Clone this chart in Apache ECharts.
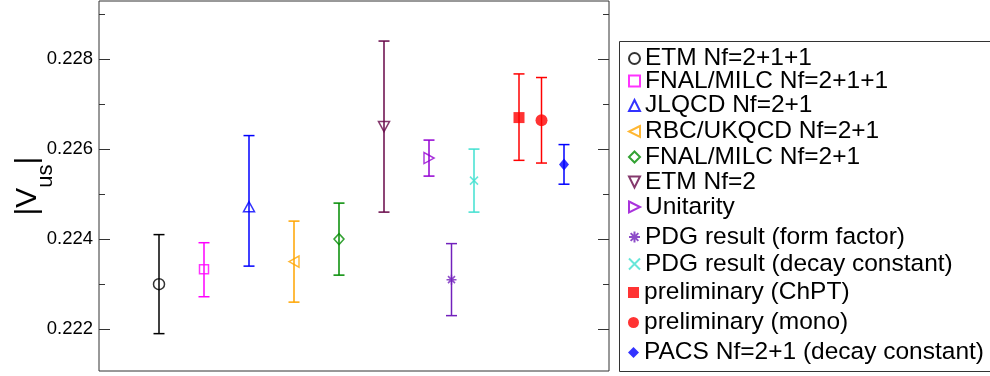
<!DOCTYPE html>
<html>
<head>
<meta charset="utf-8">
<style>
  html, body { margin: 0; padding: 0; background: #fff; }
  #chart { width: 990px; height: 376px; }
</style>
<script src="https://cdn.jsdelivr.net/npm/echarts@6/dist/echarts.min.js"></script>
</head>
<body>
<div id="chart"></div>
<script>
// data
const names = [
  "ETM Nf=2+1+1",
  "FNAL/MILC Nf=2+1+1",
  "JLQCD Nf=2+1",
  "RBC/UKQCD Nf=2+1",
  "FNAL/MILC Nf=2+1",
  "ETM Nf=2",
  "Unitarity",
  "PDG result (form factor)",
  "PDG result (decay constant)",
  "preliminary (ChPT)",
  "preliminary (mono)",
  "PACS Nf=2+1 (decay constant)"
];
const xPos = [1, 2, 3, 4, 5, 6, 7, 7.5, 8, 9, 9.5, 10];
const centers = [0.2230, 0.22333, 0.22472, 0.2235, 0.2240, 0.2265, 0.2258, 0.2231, 0.2253, 0.2267, 0.22664, 0.22566];
const upper = [0.2241, 0.22392, 0.2263, 0.2244, 0.2248, 0.2284, 0.2262, 0.2239, 0.2260, 0.22767, 0.22759, 0.2261];
const lower = [0.2219, 0.22272, 0.2234, 0.2226, 0.2232, 0.2246, 0.2254, 0.2223, 0.2246, 0.22575, 0.22569, 0.22522];
const yTicks = [0.222, 0.224, 0.226, 0.228];
const yMinorTicks = [0.223, 0.225, 0.227, 0.229];

// marker styles
const colors = ["#000000", "#ff00ff", "#0000ff", "#ffa500", "#008b00", "#670748",
  "#9400d3", "#7221bc", "#40e0d0", "#ff0000", "#ff0000", "#0000ff"];
const STAR = "path://M0,-10L0,10M-10,0L10,0M-7,-7L7,7M-7,7L7,-7";
const CROSS = "path://M-10,-10L10,10M-10,10L10,-10";
const symbols = ["circle", "rect", "triangle", "triangle", "diamond", "triangle",
  "triangle", STAR, CROSS, "rect", "circle", "diamond"];
const rotates = [0, 0, 0, 90, 0, 180, -90, 0, 0, 0, 0, 0];
// legend icons for the turned triangles (legend does not pick up the rotation)
const legendIcons = [null, null, null, "path://M10,0L0,5L10,10Z", null, "path://M0,0L10,0L5,10Z",
  "path://M0,0L10,5L0,10Z", null, null, null, null, null];
const filled = [false, false, false, false, false, false, false, false, false, true, true, true];
const sizes = [11, 9, [11, 10], [11, 10], [10, 11], [11, 10], [11, 10], 10, 8, 11, 12, [10, 12]];
const legendRows = [58, 80.5, 105, 131, 156.5, 181.5, 206.5, 236.5, 263.5, 292, 322, 352];

const FONT = "Liberation Sans";
const chart = echarts.init(document.getElementById("chart"));

function itemStyleOf(i) {
  if (filled[i]) {
    return { color: colors[i], borderWidth: 0 };
  }
  return { color: "rgba(255,255,255,0)", borderColor: colors[i], borderWidth: 1.5 };
}

const pointSeries = names.map((n, i) => ({
  name: n,
  type: "scatter",
  z: 3,
  symbol: symbols[i],
  symbolSize: sizes[i],
  symbolRotate: rotates[i],
  itemStyle: itemStyleOf(i),
  emphasis: { disabled: true },
  data: [[xPos[i], centers[i]]]
}));

const barData = xPos.map((x, i) => [x, lower[i], upper[i], i]);

const errorSeries = {
  type: "custom",
  name: "errorbars",
  z: 2,
  silent: true,
  data: barData,
  encode: { x: 0, y: [1, 2] },
  renderItem(params, api) {
    const x = api.value(0);
    const lo = api.coord([x, api.value(1)]);
    const hi = api.coord([x, api.value(2)]);
    const c = colors[api.value(3)];
    const hw = 5.5;
    const st = { stroke: c, lineWidth: 1.5 };
    return {
      type: "group",
      children: [
        { type: "line", shape: { x1: lo[0], y1: lo[1], x2: hi[0], y2: hi[1] }, style: st },
        { type: "line", shape: { x1: hi[0] - hw, y1: hi[1], x2: hi[0] + hw, y2: hi[1] }, style: st },
        { type: "line", shape: { x1: lo[0] - hw, y1: lo[1], x2: lo[0] + hw, y2: lo[1] }, style: st }
      ]
    };
  }
};

// one legend per row so the rows sit where they do in the figure
const legends = names.map((n, i) => ({
  data: [legendIcons[i] ? { name: n, icon: legendIcons[i] } : n],
  left: 628,
  top: legendRows[i] - 12,
  padding: 0,
  itemWidth: 11,
  itemHeight: 11,
  selectedMode: false,
  textStyle: { fontFamily: FONT, fontSize: 24.5, lineHeight: 24, color: "#000" }
}));

const yMin = 0.22107;
const yMax = 0.22929;

function yAxisBase(pos) {
  return {
    type: "value",
    position: pos,
    min: yMin,
    max: yMax,
    splitLine: { show: false },
    axisLine: { show: false, onZero: false }
  };
}

chart.setOption({
  animation: false,
  grid: {
    left: 99, right: 381, top: 1, bottom: 5,
    show: true, borderColor: "#333", borderWidth: 1,
    outerBoundsMode: "none"
  },
  legend: legends,
  graphic: [{
    type: "rect",
    shape: { x: 619.5, y: 41.5, width: 380, height: 330 },
    style: { fill: "none", stroke: "#333", lineWidth: 1 },
    silent: true
  }],
  xAxis: {
    type: "value",
    min: -1 / 3,
    max: 11,
    axisLine: { show: false, onZero: false },
    axisTick: { show: false },
    axisLabel: { show: false },
    splitLine: { show: false }
  },
  yAxis: [
    Object.assign(yAxisBase("left"), {
      name: "{v||V}{s|us}{v||}{p| }",
      nameLocation: "middle",
      nameRotate: 90,
      nameGap: 42,
      nameMoveOverlap: false,
      nameTextStyle: {
        fontFamily: FONT, color: "#000",
        rich: {
          v: { fontFamily: FONT, fontSize: 30, lineHeight: 30, verticalAlign: "top", color: "#000" },
          s: { fontFamily: FONT, fontSize: 22, lineHeight: 26, verticalAlign: "bottom", color: "#000" },
          p: { fontFamily: FONT, fontSize: 1, lineHeight: 44, color: "#000" }
        }
      },
      axisTick: { show: true, inside: true, length: 11, customValues: yTicks, lineStyle: { color: "#333" } },
      axisLabel: {
        customValues: yTicks, margin: 6,
        fontFamily: FONT, fontSize: 18.5, color: "#000",
        formatter: v => v.toFixed(3)
      }
    }),
    Object.assign(yAxisBase("left"), {
      axisTick: { show: true, inside: true, length: 6, customValues: yMinorTicks, lineStyle: { color: "#333" } },
      axisLabel: { show: false, customValues: yMinorTicks }
    }),
    Object.assign(yAxisBase("right"), {
      axisTick: { show: true, inside: true, length: 11, customValues: yTicks, lineStyle: { color: "#333" } },
      axisLabel: { show: false, customValues: yTicks }
    }),
    Object.assign(yAxisBase("right"), {
      axisTick: { show: true, inside: true, length: 6, customValues: yMinorTicks, lineStyle: { color: "#333" } },
      axisLabel: { show: false, customValues: yMinorTicks }
    })
  ],
  series: [errorSeries].concat(pointSeries)
});
</script>
</body>
</html>
